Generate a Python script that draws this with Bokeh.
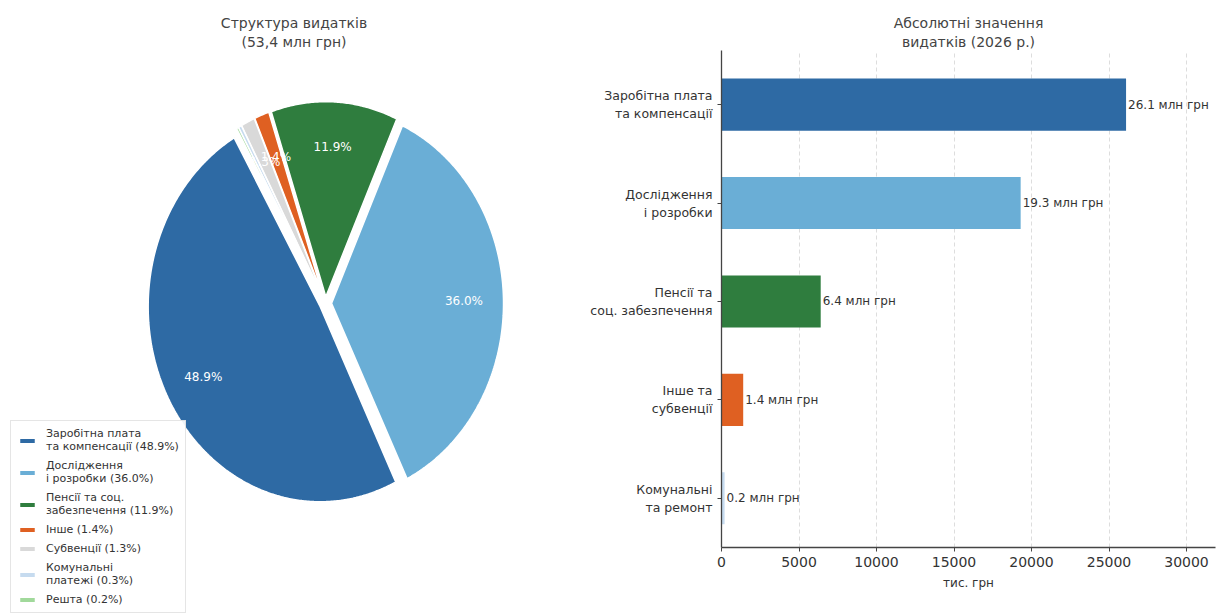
import numpy as np
from bokeh.plotting import figure
from bokeh.layouts import row, column
from bokeh.models import (Range1d, Legend, LegendItem, FixedTicker, ColumnDataSource,
                          LabelSet, Title)
from bokeh.embed import file_html
from bokeh.resources import INLINE
from bokeh.core.properties import value

FONT = "DejaVu Sans"

# ---------------- data ----------------
pie_labels = ["Заробітна плата\nта компенсації", "Дослідження\nі розробки",
              "Пенсії та соц.\nзабезпечення", "Інше", "Субвенції",
              "Комунальні\nплатежі", "Решта"]
pie_shares = [48.9, 36.0, 11.9, 1.4, 1.3, 0.3, 0.2]
pie_colors = ["#2e6aa4", "#6aaed6", "#2f7d3e", "#df6022", "#d9d9d9", "#c6dbef", "#a1d99b"]

bar_categories = ["Заробітна плата\nта компенсації", "Дослідження\nі розробки",
                  "Пенсії та\nсоц. забезпечення", "Інше та\nсубвенції",
                  "Комунальні\nта ремонт"]
bar_values = [26100, 19300, 6400, 1400, 200]  # тис. грн
bar_texts = ["26.1 млн грн", "19.3 млн грн", "6.4 млн грн", "1.4 млн грн", "0.2 млн грн"]
bar_colors = ["#2e6aa4", "#6aaed6", "#2f7d3e", "#df6022", "#c6dbef"]
x_ticks = [0, 5000, 10000, 15000, 20000, 25000, 30000]

pie_title = ["Структура видатків", "(53,4 млн грн)"]
bar_title = ["Абсолютні значення", "видатків (2026 р.)"]

start_angle = 120.0
explode = 0.035
pct_distance = 0.77


def add_titles(p, lines, offset=0):
    # later additions are placed farther from the frame -> add bottom line first
    for line in reversed(lines):
        p.add_layout(Title(text=line, align="center", offset=offset, text_font=FONT,
                           text_font_size="14px", text_font_style="normal",
                           text_color="#444444", standoff=1), "above")


# ---------------- pie ----------------
W1, H = 587, 615
p1 = figure(width=W1, height=H, output_backend="svg", toolbar_location=None,
            x_axis_location=None, y_axis_location=None,
            x_range=Range1d(-325 / 172, (W1 - 325) / 172),
            y_range=Range1d(-312 / 195, 253 / 195),
            min_border_left=0, min_border_right=0, min_border_top=50, min_border_bottom=0)
p1.grid.visible = False
p1.outline_line_color = None
add_titles(p1, pie_title, offset=38)

legend_items = []
lab_x, lab_y, lab_t = [], [], []
cum = start_angle
for lbl, share, col in zip(pie_labels, pie_shares, pie_colors):
    span = share / 100.0 * 360.0
    a0, a1 = np.radians(cum), np.radians(cum + span)
    mid = (a0 + a1) / 2
    ox, oy = explode * np.cos(mid), explode * np.sin(mid)
    n = max(3, int(span * 2))
    th = np.linspace(a0, a1, n)
    xs = np.concatenate([[ox], ox + np.cos(th)])
    ys = np.concatenate([[oy], oy + np.sin(th)])
    r = p1.patch(xs, ys, fill_color=col, line_color="white", line_width=1.5)
    legend_items.append(LegendItem(label=f"{lbl} ({share:.1f}%)", renderers=[r]))
    if share > 1.0:
        d = pct_distance + explode
        lab_x.append(d * np.cos(mid))
        lab_y.append(d * np.sin(mid))
        lab_t.append(f"{share:.1f}%")
    cum += span

src_lab = ColumnDataSource(dict(x=lab_x, y=lab_y, t=lab_t))
p1.text(x="x", y="y", text="t", source=src_lab, text_color="white",
        text_font=value(FONT), text_font_size="12px", text_align="center",
        text_baseline="middle")

leg = Legend(items=legend_items, location=(10, 2), label_text_font=FONT,
             label_text_font_size="11px", label_text_color="#333333",
             glyph_width=20, glyph_height=7, label_standoff=9, spacing=6,
             padding=6, margin=0, border_line_color="#cccccc",
             background_fill_alpha=0.92)
p1.add_layout(leg, "center")

# ---------------- bars ----------------
W2 = 1222 - W1
pos = [4, 3, 2, 1, 0]
p2 = figure(width=W2, height=H, output_backend="svg", toolbar_location=None,
            x_range=Range1d(0, 31870), y_range=Range1d(-0.5, 4.55),
            min_border_left=132, min_border_right=7, min_border_top=50,
            min_border_bottom=68)
p2.outline_line_color = None
add_titles(p2, bar_title)

src = ColumnDataSource(dict(y=pos, v=bar_values, c=bar_colors, t=bar_texts))
p2.hbar(y="y", right="v", left=0, height=0.53, fill_color="c", line_color=None, source=src)
p2.add_layout(LabelSet(x="v", y="y", text="t", source=src, x_offset=2,
                       text_baseline="middle", text_font=value(FONT),
                       text_font_size="12px", text_color="#333333"))

p2.xaxis.ticker = FixedTicker(ticks=x_ticks)
p2.yaxis.ticker = FixedTicker(ticks=pos)
p2.yaxis.major_label_overrides = {p: c for p, c in zip(pos, bar_categories)}
p2.xaxis.axis_label = "тис. грн"
for ax in (p2.xaxis, p2.yaxis):
    ax.axis_line_color = "#444444"
    ax.axis_line_width = 1.3
    ax.major_tick_line_color = "#444444"
    ax.major_tick_out = 4
    ax.major_tick_in = 0
    ax.minor_tick_line_color = None
    ax.major_label_text_font = FONT
    ax.major_label_text_color = "#333333"
p2.xaxis.major_label_text_font_size = "14px"
p2.yaxis.major_label_text_font_size = "12.5px"
p2.yaxis.major_label_standoff = 5
p2.xaxis.major_label_standoff = 5
p2.xaxis.axis_label_text_font = FONT
p2.xaxis.axis_label_text_font_size = "12px"
p2.xaxis.axis_label_text_font_style = "normal"
p2.xaxis.axis_label_text_color = "#333333"
p2.xaxis.axis_label_standoff = 6
p2.ygrid.grid_line_color = None
p2.xgrid.grid_line_color = "#dddddd"
p2.xgrid.grid_line_dash = "4 3"
p2.xgrid.grid_line_width = 1

# wrap each plot so that their frames are not aligned with each other
layout = row(column(p1), column(p2))
open("out.html", "w").write(file_html(layout, INLINE))
